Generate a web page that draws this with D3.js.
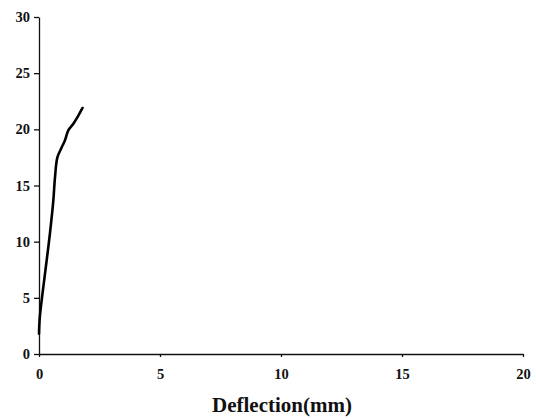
<!DOCTYPE html>
<html><head><meta charset="utf-8">
<script src="https://cdn.jsdelivr.net/npm/d3@7"></script>
<style>body{margin:0;background:#fff}svg{display:block}</style>
</head><body>
<svg id="c" width="536" height="419"></svg>
<script>
const deflection = [0, 0.03, 0.14, 0.28, 0.45, 0.59, 0.66, 0.76, 0.94, 1.07, 1.21, 1.42, 1.62, 1.8];
const load = [1.8, 3.2, 5.3, 7.7, 10.7, 13.6, 15.7, 17.5, 18.4, 19.0, 19.9, 20.5, 21.2, 21.9];
const xTicks = [0, 5, 10, 15, 20];
const yTicks = [0, 5, 10, 15, 20, 25, 30];
const xTitle = "Deflection(mm)";

const svg = d3.select("#c");
const x = d3.scaleLinear().domain([0, 20]).range([39, 523]);
const y = d3.scaleLinear().domain([0, 30]).range([354, 17]);
const font = "'Liberation Serif','Times New Roman',serif";

const xa = svg.append("g").attr("transform", "translate(0,354)")
  .call(d3.axisBottom(x).tickValues(xTicks).tickSize(3).tickPadding(12).tickSizeOuter(0));
const ya = svg.append("g").attr("transform", "translate(39,0)")
  .call(d3.axisLeft(y).tickValues(yTicks).tickSize(5).tickPadding(4).tickSizeOuter(0));
[xa, ya].forEach(a => {
  a.attr("font-size", 14.5).attr("font-family", font);
  a.selectAll("path,line").attr("stroke", "#111").attr("stroke-width", 1.3);
  a.selectAll("text").attr("font-family", font).attr("font-weight", "bold")
    .attr("font-size", 14.5).attr("fill", "#111");
});

svg.append("path")
  .datum(deflection.map((d, i) => [d, load[i]]))
  .attr("fill", "none").attr("stroke", "#000").attr("stroke-width", 2.6)
  .attr("stroke-linejoin", "round").attr("stroke-linecap", "round")
  .attr("d", d3.line().x(d => x(d[0])).y(d => y(d[1])).curve(d3.curveCatmullRom));

svg.append("text").attr("x", 282).attr("y", 412).attr("text-anchor", "middle")
  .attr("font-family", font).attr("font-weight", "bold").attr("font-size", 21)
  .attr("fill", "#111").text(xTitle);
</script>
</body></html>
